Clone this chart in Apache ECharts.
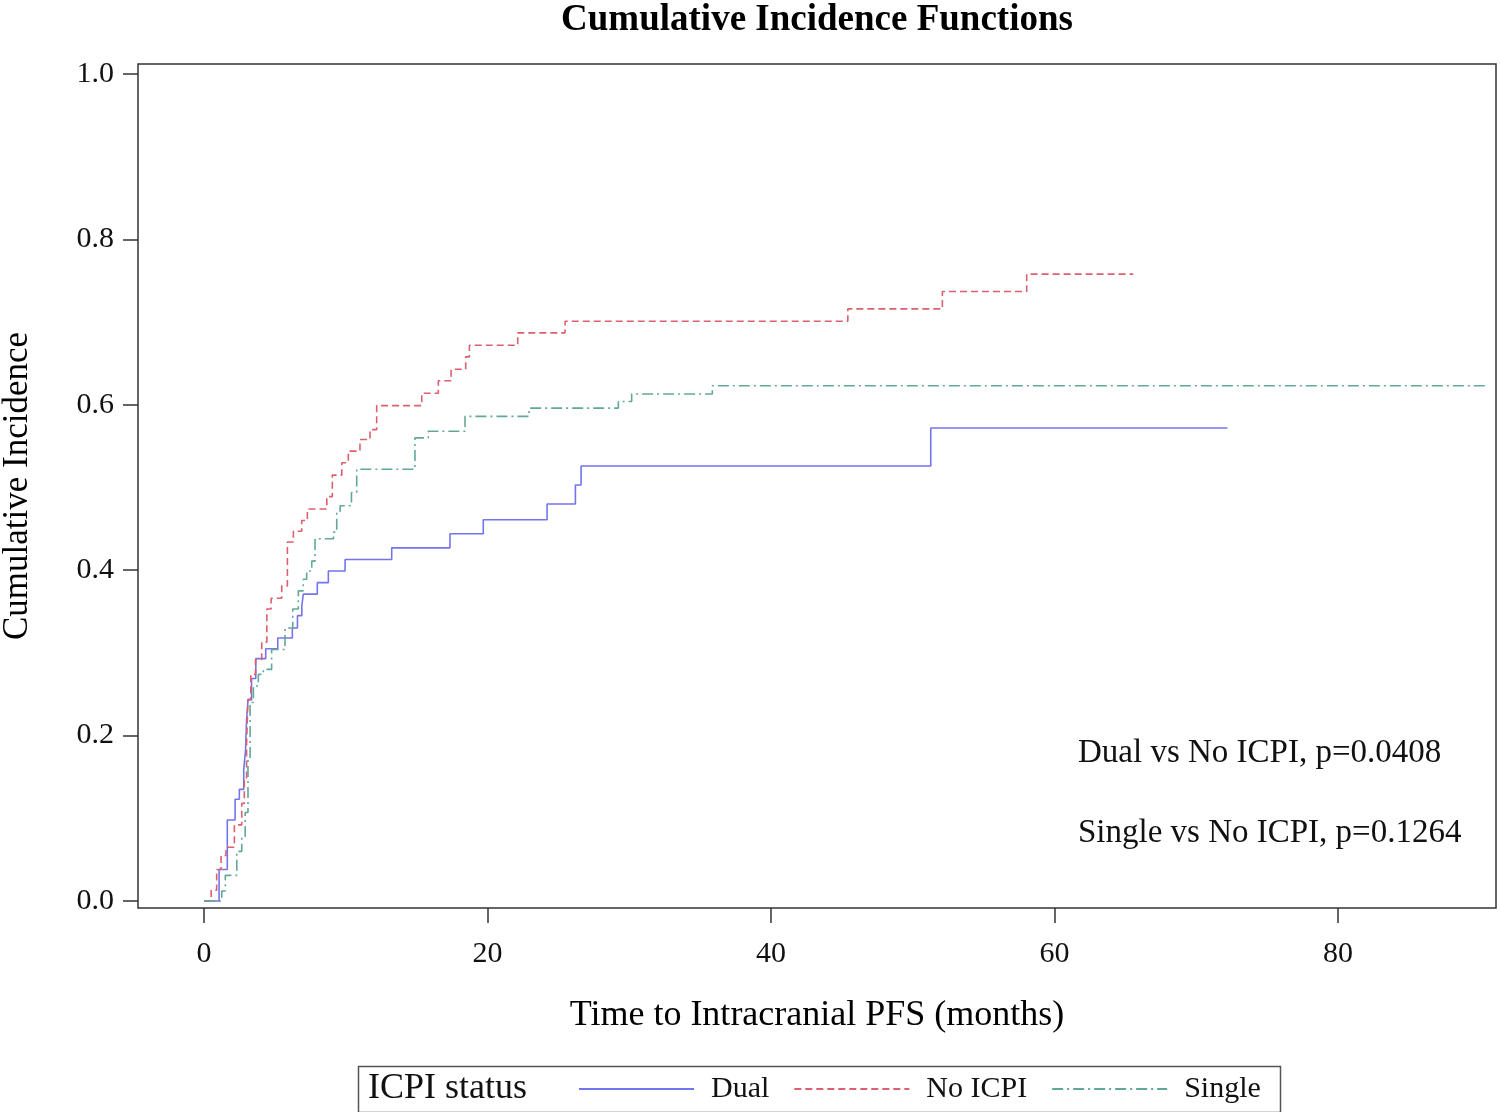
<!DOCTYPE html>
<html>
<head>
<meta charset="utf-8">
<script src="https://cdn.jsdelivr.net/npm/echarts@6/dist/echarts.min.js"></script>
<style>html,body{margin:0;padding:0;background:#fff;}#c{width:1500px;height:1112px;}</style>
</head>
<body>
<div id="c"></div>
<script>
const seriesNames = ['Dual', 'No ICPI', 'Single'];
const xTicks = [0, 20, 40, 60, 80];
const yTicks = [0, 0.2, 0.4, 0.6, 0.8, 1.0];

const dualT = [0,1.06,1.64,2.19,2.49,2.8,2.93,3.0,3.1,3.35,3.65,4.35,5.2,6.23,6.59,6.9,7.0,7.99,8.77,9.95,13.24,17.35,19.7,24.2,26.2,26.6,51.27,72.2];
const dualV = [0,0.038,0.098,0.123,0.135,0.159,0.183,0.219,0.243,0.269,0.293,0.305,0.318,0.33,0.345,0.357,0.371,0.385,0.399,0.413,0.427,0.444,0.461,0.48,0.503,0.526,0.572,0.572];

const noT = [0,0.5,0.89,1.2,1.55,2.14,2.66,2.84,3.0,3.1,3.3,3.63,4.07,4.43,4.73,5.48,5.88,6.3,6.89,7.29,8.66,9.05,9.72,10.18,11.0,11.71,12.18,15.36,16.53,17.43,18.46,18.72,22.13,25.47,45.42,52.09,58.04,65.56];
const noV = [0,0.013,0.038,0.055,0.065,0.092,0.118,0.145,0.19,0.244,0.274,0.292,0.313,0.353,0.366,0.381,0.434,0.447,0.46,0.474,0.489,0.515,0.53,0.544,0.558,0.57,0.599,0.614,0.629,0.643,0.658,0.672,0.687,0.701,0.716,0.737,0.758,0.758];

const singleT = [0,1.25,1.5,2.31,2.66,2.9,3.1,3.25,3.48,3.83,4.18,4.77,5.71,6.26,6.65,7.0,7.24,7.6,7.83,9.13,9.36,9.6,10.4,10.77,14.88,15.82,18.41,22.93,29.23,30.17,35.86,90.4];
const singleV = [0,0.012,0.031,0.06,0.078,0.107,0.171,0.24,0.26,0.274,0.28,0.304,0.33,0.353,0.375,0.389,0.399,0.411,0.438,0.446,0.471,0.478,0.494,0.522,0.56,0.568,0.586,0.596,0.604,0.613,0.623,0.623];

const pText = ['Dual vs No ICPI, p=0.0408', 'Single vs No ICPI, p=0.1264'];

const colors = ['#7474EC', '#DC6070', '#62A898'];
const font = '"Liberation Serif", "DejaVu Serif", serif';

function pairs(t, v) { return t.map((x, i) => [x, v[i]]); }

const chart = echarts.init(document.getElementById('c'), null, {renderer: 'canvas'});
const option = {
  animation: false,
  backgroundColor: '#fff',
  title: {
    text: 'Cumulative Incidence Functions',
    left: 817, top: 2, textAlign: 'center', padding: 0,
    textStyle: {fontFamily: font, fontSize: 37, fontWeight: 'bold', color: '#000'}
  },
  grid: {left: 138, right: 4, top: 64, bottom: 204, containLabel: false, outerBoundsMode: 'none',
    show: true, borderColor: '#333', borderWidth: 1.5, backgroundColor: 'transparent'},
  xAxis: {
    type: 'value', min: -4.66, max: 91.15,
    name: 'Time to Intracranial PFS (months)', nameLocation: 'middle', nameGap: 90,
    nameTextStyle: {fontFamily: font, fontSize: 36, color: '#000'},
    axisLine: {show: false, onZero: false},
    splitLine: {show: false},
    axisTick: {show: true, length: 15, inside: false, customValues: xTicks, lineStyle: {color: '#333', width: 1.5}},
    axisLabel: {customValues: xTicks, fontFamily: font, fontSize: 30, color: '#111', margin: 31}
  },
  yAxis: {
    type: 'value', min: -0.0085, max: 1.0121,
    name: 'Cumulative Incidence', nameLocation: 'middle', nameGap: 103, nameRotate: 90,
    nameTextStyle: {fontFamily: font, fontSize: 35, color: '#000'},
    axisLine: {show: false, onZero: false},
    splitLine: {show: false},
    axisTick: {show: true, length: 15, customValues: yTicks, lineStyle: {color: '#333', width: 1.5}},
    axisLabel: {customValues: yTicks, fontFamily: font, fontSize: 30, color: '#111', margin: 24,
      formatter: v => Number(v).toFixed(1)}
  },
  legend: {
    show: true,
    left: 578, top: 1074, padding: 0,
    itemWidth: 115, itemHeight: 16, itemGap: 24,
    data: seriesNames,
    itemStyle: {opacity: 0, borderWidth: 0},
    textStyle: {fontFamily: font, fontSize: 30, color: '#111', padding: [0, 0, 0, 12]},
  },
  graphic: [
    {type: 'rect', left: 356, top: 1064, shape: {width: 922, height: 46}, style: {fill: 'none', stroke: '#555', lineWidth: 1.5}, silent: true},
    {type: 'text', left: 368, top: 1071, style: {text: 'ICPI status', font: '36px ' + font, fill: '#111'}},
    {type: 'text', left: 1078, top: 737, style: {text: pText[0], font: '33px ' + font, fill: '#111'}},
    {type: 'text', left: 1078, top: 817, style: {text: pText[1], font: '33px ' + font, fill: '#111'}}
  ],
  series: [
    {name: seriesNames[0], type: 'line', step: 'end', showSymbol: false, symbol: 'none', data: pairs(dualT, dualV),
     lineStyle: {color: colors[0], width: 1.6, type: 'solid'}, itemStyle: {color: colors[0]}},
    {name: seriesNames[1], type: 'line', step: 'end', showSymbol: false, symbol: 'none', data: pairs(noT, noV),
     lineStyle: {color: colors[1], width: 1.6, type: [7, 4]}, itemStyle: {color: colors[1]}},
    {name: seriesNames[2], type: 'line', step: 'end', showSymbol: false, symbol: 'none', data: pairs(singleT, singleV),
     lineStyle: {color: colors[2], width: 1.6, type: [11, 4, 2, 4]}, itemStyle: {color: colors[2]}}
  ]
};
chart.setOption(option);
</script>
</body>
</html>
